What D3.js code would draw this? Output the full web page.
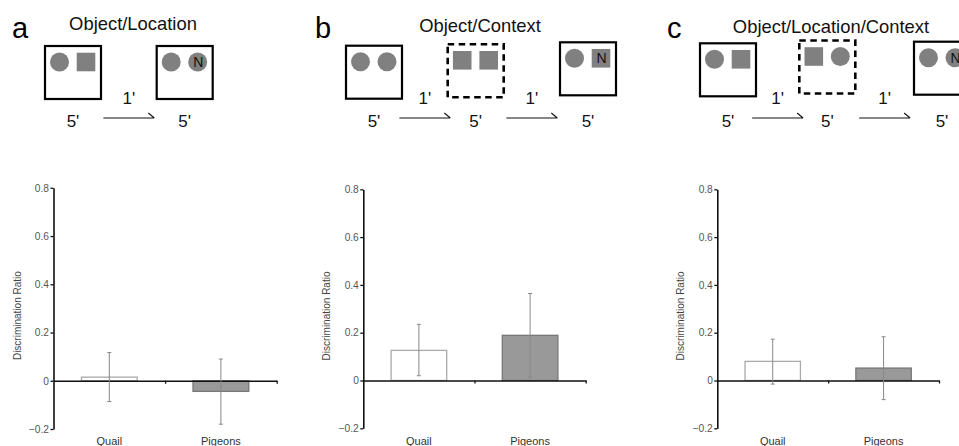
<!DOCTYPE html>
<html>
<head>
<meta charset="utf-8">
<script src="https://cdn.jsdelivr.net/npm/d3@7"></script>
<style>
  body { margin: 0; background: #fff; }
  svg text { font-family: "Liberation Sans", Arial, sans-serif; }
</style>
</head>
<body>
<div id="fig"></div>
<script>
// chart data
const panelLetters = ["a", "b", "c"];
const panelTitles = ["Object/Location", "Object/Context", "Object/Location/Context"];
const groups = ["Quail", "Pigeons"];
const meanA = [0.015, -0.044];
const meanB = [0.126, 0.189];
const meanC = [0.080, 0.052];
const errLowA = [-0.086, -0.180];
const errHighA = [0.117, 0.090];
const errLowB = [0.020, 0.013];
const errHighB = [0.235, 0.364];
const errLowC = [-0.015, -0.080];
const errHighC = [0.173, 0.183];
const yTicks = [-0.2, 0, 0.2, 0.4, 0.6, 0.8];
const yLabel = "Discrimination Ratio";

// schematic: objects in each session box (N = novel)
const sessionsA = [["circle", "square"], ["circle", "circleN"]];
const sessionsB = [["circle", "circle"], ["square", "square"], ["circle", "squareN"]];
const sessionsC = [["circle", "square"], ["square", "circle"], ["circle", "circleN"]];
const dashedA = [false, false];
const dashedB = [false, true, false];
const dashedC = [false, true, false];
const sessionLabel = "5'";
const delayLabel = "1'";

const means = [meanA, meanB, meanC];
const lows = [errLowA, errLowB, errLowC];
const highs = [errHighA, errHighB, errHighC];
const sessions = [sessionsA, sessionsB, sessionsC];
const dashed = [dashedA, dashedB, dashedC];

// layout
const W = 959, H = 446;
const plotLayout = [
  { x0: 53.5, x1: 276.7, yTop: 187.8, yBot: 429 },
  { x0: 363.3, x1: 585.7, yTop: 189.3, yBot: 428.3 },
  { x0: 717.3, x1: 939, yTop: 189.3, yBot: 428.3 }
];
const schemeLayout = [
  { letterX: 12, titleX: 133, titleY: 29.5, boxX: [45, 156.7], boxY: [46, 46] },
  { letterX: 315, titleX: 480, titleY: 31.5, boxX: [346, 447.7, 560], boxY: [45.7, 44.3, 42.3] },
  { letterX: 667, titleX: 831, titleY: 33, boxX: [700, 799.3, 914], boxY: [43.3, 40.5, 41.7] }
];
const boxW = 56, boxH = 53;
const slotX = [14.5, 41], slotY = 16;
const grey = "#808080";

const svg = d3.select("#fig").append("svg")
  .attr("width", W).attr("height", H);

panelLetters.forEach((letter, p) => {
  const sl = schemeLayout[p];
  const g = svg.append("g");

  // panel letter + title
  g.append("text").attr("x", sl.letterX).attr("y", 38)
    .attr("font-size", 29).attr("fill", "#000").text(letter);
  g.append("text").attr("x", sl.titleX).attr("y", sl.titleY)
    .attr("text-anchor", "middle").attr("font-size", 18.4).attr("fill", "#111")
    .text(panelTitles[p]);

  // session boxes
  sessions[p].forEach((objs, i) => {
    const bx = sl.boxX[i], by = sl.boxY[i];
    g.append("rect").attr("x", bx).attr("y", by).attr("width", boxW).attr("height", boxH)
      .attr("fill", "none").attr("stroke", "#000")
      .attr("stroke-width", dashed[p][i] ? 2.6 : 2.2)
      .attr("stroke-dasharray", dashed[p][i] ? "6.5,4.5" : null);
    objs.forEach((o, k) => {
      const cx = bx + slotX[k], cy = by + slotY;
      if (o.startsWith("circle")) {
        g.append("circle").attr("cx", cx).attr("cy", cy).attr("r", 9.5).attr("fill", grey);
      } else {
        g.append("rect").attr("x", cx - 9.3).attr("y", cy - 9.3)
          .attr("width", 18.6).attr("height", 18.6).attr("fill", grey);
      }
      if (o.endsWith("N")) {
        g.append("text").attr("x", cx + 0.5).attr("y", cy + 5)
          .attr("text-anchor", "middle").attr("font-size", 14).attr("fill", "#111").text("N");
      }
    });
    g.append("text").attr("x", bx + boxW / 2).attr("y", 127)
      .attr("text-anchor", "middle").attr("font-size", 17).attr("fill", "#111")
      .text(sessionLabel);
    // delay arrow to next session
    if (i < sessions[p].length - 1) {
      const mid = (bx + boxW / 2 + sl.boxX[i + 1] + boxW / 2) / 2;
      const ax0 = mid - 25.5, ax1 = mid + 25.5, ay = 118;
      g.append("path")
        .attr("d", `M${ax0},${ay}H${ax1}M${ax1 - 6},${ay - 5}L${ax1},${ay}`)
        .attr("fill", "none").attr("stroke", "#111").attr("stroke-width", 1.1);
      g.append("text").attr("x", mid).attr("y", 103.5)
        .attr("text-anchor", "middle").attr("font-size", 17).attr("fill", "#111")
        .text(delayLabel);
    }
  });

  // bar chart
  const L = plotLayout[p];
  const y = d3.scaleLinear().domain([-0.2, 0.8]).range([L.yBot, L.yTop]);
  const x = d3.scaleBand().domain(groups).range([L.x0, L.x1])
    .paddingInner(0.5).paddingOuter(0.25);
  const xt = d3.scaleLinear().domain([0, 2]).range([L.x0, L.x1]);

  const yAx = g.append("g").attr("transform", `translate(${L.x0},0)`)
    .call(d3.axisLeft(y).tickValues(yTicks).tickSize(3).tickSizeOuter(0).tickPadding(1.5)
      .tickFormat(d => d === 0 ? "0" : d3.format(".1f")(d)));
  yAx.select(".domain").attr("stroke", "#111").attr("stroke-width", 1.6);
  yAx.selectAll(".tick line").attr("stroke", "#111").attr("stroke-width", 1.3);
  yAx.selectAll(".tick text").attr("font-size", 10.2).attr("fill", "#555")
    .attr("font-family", "Liberation Sans, Arial, sans-serif");

  g.append("text")
    .attr("transform", `translate(${L.x0 - 33},${y(0.27)}) rotate(-90)`)
    .attr("text-anchor", "middle").attr("font-size", 10).attr("fill", "#444")
    .text(yLabel);

  // bars
  g.selectAll(".bar").data(groups).join("rect")
    .attr("x", d => x(d))
    .attr("y", (d, i) => y(Math.max(0, means[p][i])))
    .attr("width", x.bandwidth())
    .attr("height", (d, i) => Math.abs(y(means[p][i]) - y(0)))
    .attr("fill", (d, i) => i === 0 ? "#fff" : "#999")
    .attr("stroke", (d, i) => i === 0 ? "#aaa" : "#777")
    .attr("stroke-width", 1.3);

  // x axis at zero
  const xAx = g.append("g").attr("transform", `translate(0,${y(0)})`)
    .call(d3.axisBottom(xt).tickValues([1, 2]).tickSize(3).tickSizeOuter(0).tickFormat(""));
  xAx.select(".domain").attr("stroke", "#111").attr("stroke-width", 1.6);
  xAx.selectAll(".tick line").attr("stroke", "#111").attr("stroke-width", 1.3);

  // error bars
  const eb = g.selectAll(".err").data(groups).join("g")
    .attr("stroke", "#888").attr("stroke-width", 1);
  eb.append("line")
    .attr("x1", d => x(d) + x.bandwidth() / 2).attr("x2", d => x(d) + x.bandwidth() / 2)
    .attr("y1", (d, i) => y(lows[p][i])).attr("y2", (d, i) => y(highs[p][i]));
  eb.append("line")
    .attr("x1", d => x(d) + x.bandwidth() / 2 - 2).attr("x2", d => x(d) + x.bandwidth() / 2 + 2)
    .attr("y1", (d, i) => y(lows[p][i])).attr("y2", (d, i) => y(lows[p][i]));
  eb.append("line")
    .attr("x1", d => x(d) + x.bandwidth() / 2 - 2).attr("x2", d => x(d) + x.bandwidth() / 2 + 2)
    .attr("y1", (d, i) => y(highs[p][i])).attr("y2", (d, i) => y(highs[p][i]));

  // category labels
  g.selectAll(".cat").data(groups).join("text")
    .attr("x", d => x(d) + x.bandwidth() / 2).attr("y", 444.5)
    .attr("text-anchor", "middle").attr("font-size", 11).attr("fill", "#333")
    .text(d => d);
});
</script>
</body>
</html>
